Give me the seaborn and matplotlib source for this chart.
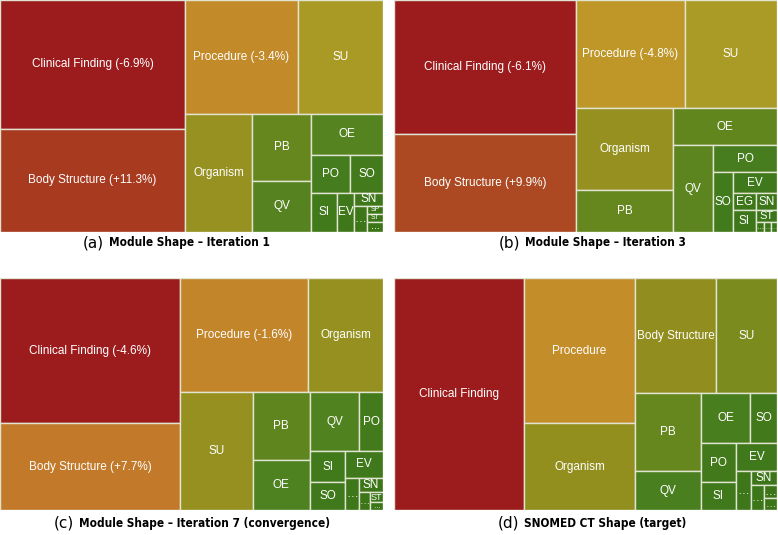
import matplotlib
matplotlib.use("Agg")
import matplotlib.pyplot as plt
from matplotlib.patches import Rectangle
import seaborn as sns

# Module shape, iteration 1
a_labels = ["Clinical Finding (-6.9%)", "Body Structure (+11.3%)", "Procedure (-3.4%)", "SU",
            "Organism", "PB", "QV", "OE", "PO", "SO", "SI", "EV", "SN", "…", "SP", "ST", "…"]
a_sizes = [23865, 19055, 12882, 9690, 7906, 3953, 3009, 2952, 1482, 1254, 1014, 663, 377, 338,
           128, 128, 160]
a_strips = [2, 2, 1, 2, 1, 2, 1, 1, 1, 1, 1, 1, 1]

# Module shape, iteration 3
b_labels = ["Clinical Finding (-6.1%)", "Body Structure (+9.9%)", "Procedure (-4.8%)", "SU",
            "Organism", "PB", "OE", "QV", "PO", "SO", "EV", "EG", "SI", "SN", "ST", "…", "…", "…"]
b_sizes = [24388, 17836, 11772, 9936, 7954, 4074, 3848, 3480, 1728, 1200, 924, 374, 484, 350,
           264, 80, 70, 60]
b_strips = [2, 2, 2, 1, 1, 1, 1, 1, 2, 1, 1, 1, 1, 1]

# Module shape, iteration 7 (convergence)
c_labels = ["Clinical Finding (-4.6%)", "Body Structure (+7.7%)", "Procedure (-1.6%)", "Organism",
            "SU", "PB", "OE", "QV", "PO", "SI", "SO", "EV", "…", "SN", "…", "ST", "…"]
c_sizes = [26100, 15660, 14592, 8550, 8496, 3876, 2850, 2900, 1392, 1120, 980, 1014, 442, 338,
           200, 130, 100]
c_strips = [2, 2, 1, 2, 2, 2, 1, 1, 1, 1, 1, 1]

# SNOMED CT shape (target)
d_labels = ["Clinical Finding", "Procedure", "Organism", "Body Structure", "SU", "PB", "QV", "OE",
            "SO", "PO", "SI", "EV", "…", "SN", "…", "…", "…"]
d_sizes = [30160, 16095, 9657, 9315, 7015, 5148, 2574, 2450, 1350, 1365, 980, 1148, 585, 375,
           320, 170, 150]
d_strips = [1, 2, 2, 2, 2, 2, 1, 1, 1, 1, 1, 1]

captions = ["(a)", "(b)", "(c)", "(d)"]
titles = ["Module Shape – Iteration 1", "Module Shape – Iteration 3",
          "Module Shape – Iteration 7 (convergence)", "SNOMED CT Shape (target)"]

sns.set_theme(style="white")
plt.rcParams["font.family"] = ["Liberation Sans", "DejaVu Sans"]

# green for small modules through olive and orange to dark red for the biggest one
shade_colors = ["#3a7518", "#4c8120", "#728a1d", "#8e8d1e", "#a89a26", "#c4962a",
                "#c27a2a", "#ae5024", "#a83a20", "#a2281e", "#9c1c1e"]
cmap = sns.blend_palette(shade_colors, as_cmap=True)


def squarify(sizes, strips, x, y, w, h):
    # lay the values out in strips, column if the free space is wide, row if tall
    scale = w * h / sum(sizes)
    areas = [s * scale for s in sizes]
    rects = []
    i = 0
    for n in strips:
        strip = areas[i:i + n]
        i += n
        if w > h:
            sw = sum(strip) / h
            yy = y
            for a in strip:
                rects.append((x, yy, sw, a / sw))
                yy += a / sw
            x += sw
            w -= sw
        else:
            sh = sum(strip) / w
            xx = x
            for a in strip:
                rects.append((xx, y, a / sh, sh))
                xx += a / sh
            y += sh
            h -= sh
    return rects


def draw_treemap(ax, labels, sizes, strips, renderer):
    W, H = 383, 232  # one data unit is one pixel
    ax.set_xlim(0, W)
    ax.set_ylim(H, 0)
    ax.set_axis_off()
    top = max(sizes)
    for (x, y, w, h), lab, s in zip(squarify(sizes, strips, 0, 0, W, H), labels, sizes):
        rect = Rectangle((x, y), w, h, facecolor=cmap(s / top), edgecolor="#e2e4d2", linewidth=1.0)
        ax.add_patch(rect)
        t = ax.text(x + w / 2, y + h / 2, lab, color="white", fontsize=8.5,
                    ha="center", va="center", clip_on=True)
        t.set_clip_path(rect)
        # shrink the label only when it would spill out of its cell
        bb = t.get_window_extent(renderer)
        k = min(1.0, (w - 1) / bb.width, (h - 1) / bb.height)
        if k < 1.0:
            t.set_fontsize(8.5 * k)


fig = plt.figure(figsize=(7.78, 5.35), dpi=100)
renderer = fig.canvas.get_renderer()
panel_pos = [[0.0, 0.5664, 0.4923, 0.4336], [0.5064, 0.5664, 0.4923, 0.4336],
             [0.0, 0.0467, 0.4923, 0.4336], [0.5064, 0.0467, 0.4923, 0.4336]]
data = [(a_labels, a_sizes, a_strips), (b_labels, b_sizes, b_strips),
        (c_labels, c_sizes, c_strips), (d_labels, d_sizes, d_strips)]

for pos, (labels, sizes, strips) in zip(panel_pos, data):
    ax = fig.add_axes(pos)
    draw_treemap(ax, labels, sizes, strips, renderer)

# captions below each panel
cap_x = [109, 525, 79, 524]
cap_y = [0.5458, 0.5458, 0.0224, 0.0224]
for cx, cy, cap, title in zip(cap_x, cap_y, captions, titles):
    fig.text(cx / 778 - 0.006, cy, cap, ha="right", va="center", fontsize=11,
             family="DejaVu Sans", color="black")
    fig.text(cx / 778, cy, title, ha="left", va="center", fontsize=8.5,
             family="DejaVu Sans", fontweight="bold", fontstretch="condensed", color="black")

fig.savefig("out.png", dpi=100)
